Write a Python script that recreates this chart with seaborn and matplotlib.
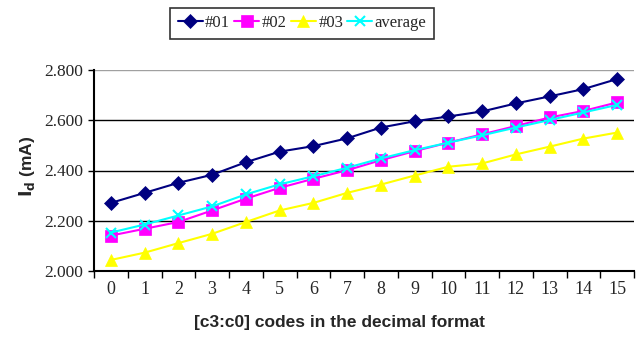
import numpy as np
import pandas as pd
import matplotlib

matplotlib.use("Agg")
import matplotlib.pyplot as plt
import seaborn as sns

codes = list(range(16))
s01 = [2.271, 2.311, 2.351, 2.383, 2.433, 2.475, 2.497, 2.528,
       2.571, 2.596, 2.615, 2.635, 2.667, 2.695, 2.724, 2.764]
s02 = [2.141, 2.168, 2.195, 2.241, 2.288, 2.331, 2.367, 2.401,
       2.441, 2.477, 2.511, 2.544, 2.577, 2.611, 2.637, 2.671]
s03 = [2.044, 2.073, 2.111, 2.148, 2.195, 2.241, 2.271, 2.311,
       2.344, 2.380, 2.415, 2.428, 2.464, 2.495, 2.527, 2.551]
avg = [2.153, 2.185, 2.221, 2.257, 2.305, 2.345, 2.377, 2.411,
       2.448, 2.481, 2.511, 2.540, 2.571, 2.601, 2.631, 2.661]
series_names = ["#01", "#02", "#03", "average"]

df = pd.DataFrame({"code": codes, "#01": s01, "#02": s02, "#03": s03, "average": avg})
long = df.melt(id_vars="code", var_name="series", value_name="Id")

sns.set_style("white")
plt.rcParams["font.family"] = ["Liberation Serif", "DejaVu Serif"]

fig = plt.figure(figsize=(6.38, 3.38), dpi=100)
ax = fig.add_axes([94 / 638, 1 - 271 / 338, 540 / 638, 201 / 338])

palette = {"#01": "#000080", "#02": "#ff00ff", "#03": "#ffff00", "average": "#00ffff"}
markers = {"#01": "D", "#02": "s", "#03": "^", "average": "x"}
sizes = {"#01": 7.5, "#02": 8, "#03": 8.5, "average": 7.5}

# grid lines first so the series sit on top
for yv in [2.2, 2.4, 2.6]:
    ax.axhline(yv, color="black", lw=1.0, zorder=0)
ax.axhline(2.8, color="#a0a0a0", lw=1.0, zorder=0)

for name in series_names:
    sub = long[long["series"] == name]
    sns.lineplot(
        data=sub, x="code", y="Id", ax=ax, color=palette[name],
        marker=markers[name], markersize=sizes[name], lw=1.5,
        markeredgecolor=palette[name], markeredgewidth=1.5 if name == "average" else 0.5,
        label=name, legend=False,
    )

ax.set_xlim(-0.5, 15.5)
ax.set_ylim(2.0, 2.8)
ax.set_xticks(np.arange(-0.5, 16, 1))
ax.set_xticklabels([])
ax.set_xticks(codes, minor=True)
ax.set_xticklabels([str(c) for c in codes], minor=True, fontsize=13)
ax.tick_params(axis="x", which="major", direction="out", length=5, width=1, color="black", bottom=True)
ax.tick_params(axis="x", which="minor", length=0, pad=7)
ax.set_yticks([2.0, 2.2, 2.4, 2.6, 2.8])
ax.set_yticklabels([f"{v:.3f}" for v in [2.0, 2.2, 2.4, 2.6, 2.8]], fontsize=12.5)
ax.tick_params(axis="y", direction="out", length=4, width=1, color="black", left=True, pad=4)

for side in ["top", "right"]:
    ax.spines[side].set_visible(False)
for side in ["left", "bottom"]:
    ax.spines[side].set_color("black")
    ax.spines[side].set_linewidth(1.5)

ax.set_xlabel("[c3:c0] codes in the decimal format", fontsize=12.5, fontweight="bold",
              family="Liberation Sans")
ax.xaxis.set_label_coords((340 - 94) / 540, -0.22)
ax.set_ylabel(r"$\mathbf{I_d}$ (mA)", fontsize=12.5, fontweight="bold", family="Liberation Sans")
ax.yaxis.set_label_coords(-0.105, 0.52)

handles, labels = ax.get_legend_handles_labels()
leg = fig.legend(handles, labels, loc="center", bbox_to_anchor=(302 / 638, 1 - 23 / 338),
                 ncol=4, frameon=True, fancybox=False, fontsize=12, handlelength=1.5,
                 handletextpad=0.15, columnspacing=0.25, borderpad=0.45, borderaxespad=0)
leg.get_frame().set_edgecolor("black")
leg.get_frame().set_linewidth(1.2)

fig.savefig("out.png", dpi=100)
